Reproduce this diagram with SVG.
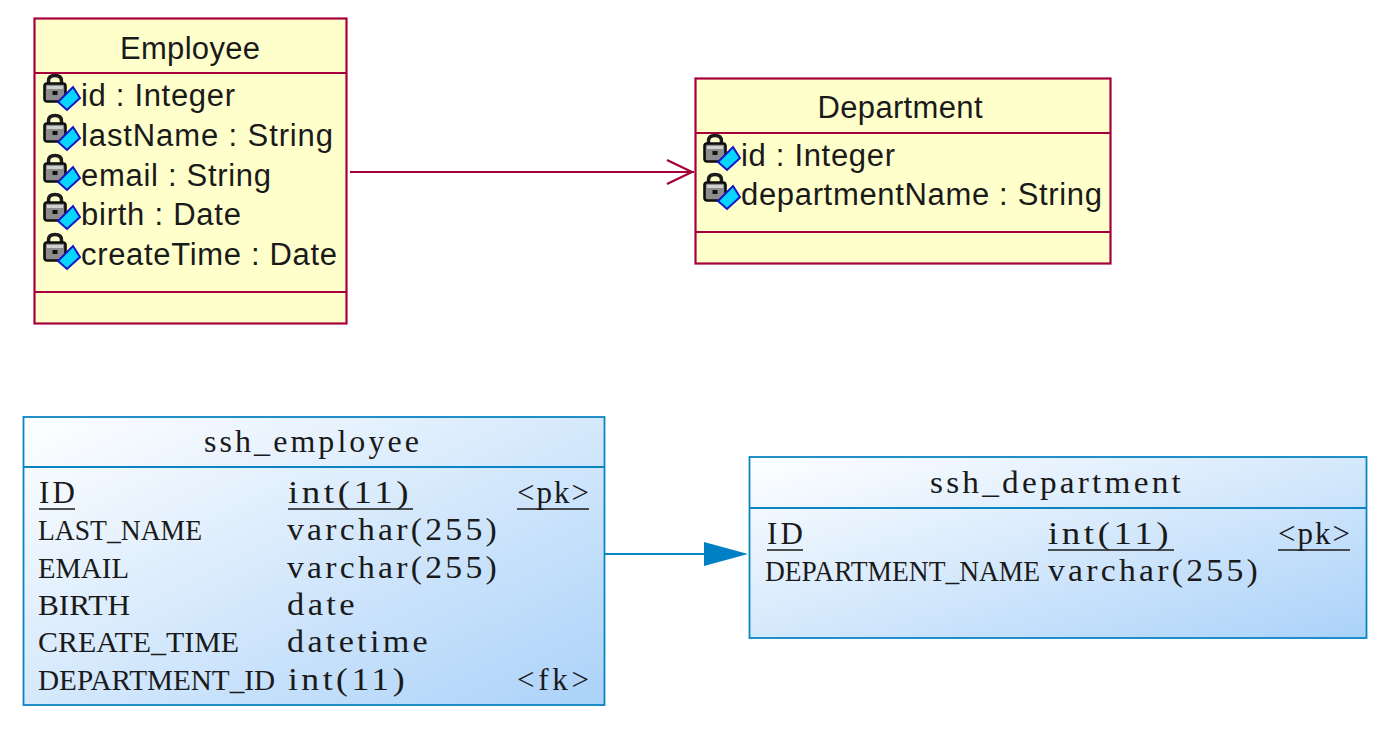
<svg xmlns="http://www.w3.org/2000/svg" width="1398" height="729" viewBox="0 0 1398 729">
<style>
.cls{fill:#ffffcb;stroke:#a5003c;stroke-width:2.2}
.cdiv{stroke:#a5003c;stroke-width:2.2;fill:none}
.tbl{fill:url(#blue);stroke:#0b84c4;stroke-width:1.8}
.tdiv{stroke:#0b84c4;stroke-width:1.8;fill:none}
.u{font-family:"Liberation Sans",Arial,sans-serif;font-size:31px;fill:#1a1a1a}
.s{font-family:"Liberation Serif","Times New Roman",serif;font-size:31px;fill:#1a1a1a}
.up{font-size:30px}
.lo{font-size:31px;letter-spacing:3px}
.m{text-anchor:middle}
</style>
<defs>
<linearGradient id="blue" x1="0" y1="0" x2="1" y2="1"><stop offset="0" stop-color="#ffffff"/><stop offset="1" stop-color="#abd2f9"/></linearGradient>
<g id="ico">
<path d="M4.500 10V7q0-5.500 6.500-5.500t6.500 5.500v3" fill="none" stroke="#1c1c1c" stroke-width="3.500"/>
<rect x="0.500" y="9.500" width="21" height="18" rx="2.500" fill="#8d8d8d" stroke="#0d0d0d" stroke-width="2.600"/>
<rect x="3" y="12" width="16" height="3" fill="#d0d0d0"/>
<rect x="8.500" y="17" width="5" height="4" fill="#111"/>
<path d="M29 13L36 24L23 36L14 28Z" fill="#06d6ff" stroke="#1515c8" stroke-width="2"/>
</g>
</defs>
<g id="employee-class">
<rect class="cls" x="34.500" y="18.500" width="312" height="305"/>
<path class="cdiv" d="M34.500 73H346M34.500 292H346"/>
<text class="u m" x="190" y="59" textLength="140" lengthAdjust="spacing">Employee</text>
<use href="#ico" x="44" y="74"/><text class="u" x="81" y="106" textLength="154" lengthAdjust="spacing">id : Integer</text>
<use href="#ico" x="44" y="114"/><text class="u" x="81" y="146" textLength="252" lengthAdjust="spacing">lastName : String</text>
<use href="#ico" x="44" y="154"/><text class="u" x="81" y="186" textLength="190" lengthAdjust="spacing">email : String</text>
<use href="#ico" x="44" y="193"/><text class="u" x="81" y="225" textLength="160" lengthAdjust="spacing">birth : Date</text>
<use href="#ico" x="44" y="233"/><text class="u" x="81" y="265" textLength="256" lengthAdjust="spacing">createTime : Date</text>
</g>
<g id="department-class">
<rect class="cls" x="695.500" y="78.500" width="415" height="185"/>
<path class="cdiv" d="M695.500 133H1110M695.500 232H1110"/>
<text class="u m" x="900" y="118" textLength="165" lengthAdjust="spacing">Department</text>
<use href="#ico" x="704" y="134"/><text class="u" x="741" y="166" textLength="154" lengthAdjust="spacing">id : Integer</text>
<use href="#ico" x="704" y="173"/><text class="u" x="741" y="205" textLength="361" lengthAdjust="spacing">departmentName : String</text>
</g>
<g id="ssh-employee">
<rect class="tbl" x="23.500" y="417" width="581" height="288"/>
<path class="tdiv" d="M23.500 467H604"/>
<text class="s lo m" x="313" y="452" textLength="218" lengthAdjust="spacingAndGlyphs">ssh_employee</text>
<text class="s" x="39" y="503" textLength="36" lengthAdjust="spacing">ID</text>
<text class="s lo" x="288" y="503" textLength="124" lengthAdjust="spacingAndGlyphs">int(11)</text>
<text class="s" x="517" y="503" textLength="72" lengthAdjust="spacing">&lt;pk&gt;</text>
<path d="M39 509H75M288 509H413M517 509H589" stroke="#1a1a1a" stroke-width="1.600" fill="none"/>
<text class="s up" x="38" y="540" textLength="164" lengthAdjust="spacingAndGlyphs">LAST_NAME</text>
<text class="s lo" x="287" y="540" textLength="213" lengthAdjust="spacingAndGlyphs">varchar(255)</text>
<text class="s up" x="38" y="578" textLength="91" lengthAdjust="spacingAndGlyphs">EMAIL</text>
<text class="s lo" x="287" y="578" textLength="213" lengthAdjust="spacingAndGlyphs">varchar(255)</text>
<text class="s up" x="38" y="615" textLength="92" lengthAdjust="spacingAndGlyphs">BIRTH</text>
<text class="s lo" x="287" y="615" textLength="71" lengthAdjust="spacingAndGlyphs">date</text>
<text class="s up" x="38" y="652" textLength="201" lengthAdjust="spacingAndGlyphs">CREATE_TIME</text>
<text class="s lo" x="287" y="652" textLength="144" lengthAdjust="spacingAndGlyphs">datetime</text>
<text class="s up" x="38" y="690" textLength="237" lengthAdjust="spacingAndGlyphs">DEPARTMENT_ID</text>
<text class="s lo" x="288" y="690" textLength="120" lengthAdjust="spacingAndGlyphs">int(11)</text>
<text class="s" x="517" y="690" textLength="72" lengthAdjust="spacing">&lt;fk&gt;</text>
</g>
<g id="ssh-department">
<rect class="tbl" x="749.500" y="457" width="617" height="181"/>
<path class="tdiv" d="M749.500 508H1366"/>
<text class="s lo m" x="1057" y="493" textLength="254" lengthAdjust="spacingAndGlyphs">ssh_department</text>
<text class="s" x="767" y="544" textLength="36" lengthAdjust="spacing">ID</text>
<text class="s lo" x="1048" y="544" textLength="124" lengthAdjust="spacingAndGlyphs">int(11)</text>
<text class="s" x="1278" y="544" textLength="72" lengthAdjust="spacing">&lt;pk&gt;</text>
<path d="M767 550H803M1048 550H1174M1278 550H1350" stroke="#1a1a1a" stroke-width="1.600" fill="none"/>
<text class="s up" x="765" y="581" textLength="275" lengthAdjust="spacingAndGlyphs">DEPARTMENT_NAME</text>
<text class="s lo" x="1048" y="581" textLength="213" lengthAdjust="spacingAndGlyphs">varchar(255)</text>
</g>
<g id="connectors">
<path d="M350 172H694M667 160L692 172L667 184" fill="none" stroke="#a5003c" stroke-width="2.200"/>
<path d="M605 554H705" fill="none" stroke="#0b84c4" stroke-width="1.800"/>
<path d="M704 542L748 554L704 566Z" fill="#0080c4"/>
</g>
</svg>
